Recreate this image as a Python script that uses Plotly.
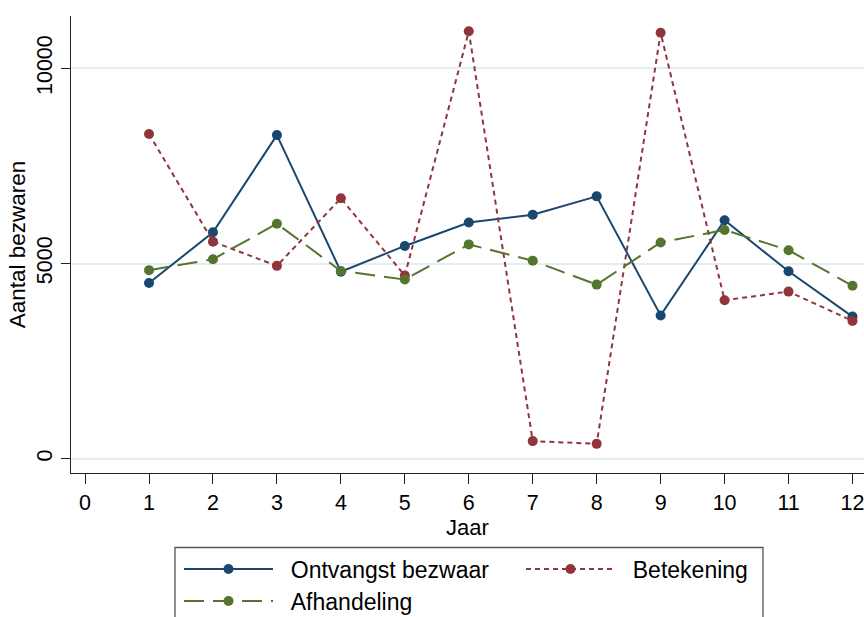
import plotly.graph_objects as go

years = [1, 2, 3, 4, 5, 6, 7, 8, 9, 10, 11, 12]
ontvangst = [4500, 5800, 8290, 4790, 5450, 6050, 6250, 6720, 3670, 6110, 4800, 3640]
betekening = [8320, 5560, 4940, 6670, 4690, 10950, 450, 380, 10910, 4060, 4280, 3530]
afhandeling = [4830, 5110, 6020, 4810, 4590, 5490, 5070, 4460, 5540, 5860, 5340, 4430]

x_ticks = list(range(0, 13))
y_ticks = [0, 5000, 10000]

NAVY = "#1a476f"
MAROON = "#90353b"
GREEN = "#55752f"
FONT = "Liberation Sans, Arial, sans-serif"
W, H = 864, 617
L, R, T, B = 71, 0, 16, 144

NB = "\u00a0\u00a0"

plot_w = W - L - R
plot_h = H - T - B

def px2paper_x(px):
    return (px - L) / plot_w

def px2paper_y(py):
    return (H - B - py) / plot_h

fig = go.Figure()
fig.add_trace(go.Scatter(x=years, y=ontvangst, mode="lines+markers", name=NB + "Ontvangst bezwaar",
                         line=dict(color=NAVY, width=2), marker=dict(color=NAVY, size=10),
                         legend="legend", showlegend=True))
fig.add_trace(go.Scatter(x=years, y=betekening, mode="lines+markers", name=NB + "Betekening",
                         line=dict(color=MAROON, width=2, dash="5px,4px"), marker=dict(color=MAROON, size=10),
                         legend="legend2", showlegend=True))
fig.add_trace(go.Scatter(x=years, y=afhandeling, mode="lines+markers", name=NB + "Afhandeling",
                         line=dict(color=GREEN, width=2, dash="20px,9px"), marker=dict(color=GREEN, size=10),
                         legend="legend3", showlegend=True))

def leg(px, py):
    return dict(xref="paper", yref="paper", x=px2paper_x(px), y=px2paper_y(py),
                xanchor="left", yanchor="middle", bgcolor="rgba(0,0,0,0)", borderwidth=0,
                itemwidth=89, font=dict(family=FONT, size=23, color="black"), visible=True)

fig.add_shape(type="rect", xref="paper", yref="paper",
              x0=px2paper_x(175), x1=px2paper_x(763), y0=px2paper_y(547.5), y1=px2paper_y(660),
              line=dict(color="#555555", width=1.3), fillcolor="white", layer="below")

fig.update_layout(
    width=W, height=H,
    showlegend=True,
    margin=dict(l=L, r=R, t=T, b=B, autoexpand=False),
    paper_bgcolor="white", plot_bgcolor="white",
    font=dict(family=FONT, color="black"),
    legend=leg(179, 569),
    legend2=leg(521, 569),
    legend3=leg(179, 601),
    xaxis=dict(range=[-0.22, 12.18], tickvals=x_ticks, ticktext=[str(v) for v in x_ticks],
               showgrid=False, zeroline=False, showline=True, linecolor="#222222", linewidth=1.4,
               ticks="outside", ticklen=10, tickwidth=1.3, tickcolor="#222222",
               ticklabeloverflow="allow",
               tickfont=dict(size=21.5, family=FONT, color="black"),
               title=dict(text="Jaar", font=dict(size=22, family=FONT, color="black"), standoff=0)),
    yaxis=dict(range=[-367, 11341], tickvals=y_ticks, ticktext=[str(v) for v in y_ticks],
               tickangle=-90, showgrid=True, gridcolor="#e4eef2", gridwidth=1.5,
               zeroline=False, showline=True, linecolor="#222222", linewidth=1.4,
               ticks="outside", ticklen=9, tickwidth=1.3, tickcolor="#222222",
               tickfont=dict(size=21.5, family=FONT, color="black"),
               title=dict(text="Aantal bezwaren", font=dict(size=22.5, family=FONT, color="black"), standoff=1)),
)

fig.write_html("out.html")
